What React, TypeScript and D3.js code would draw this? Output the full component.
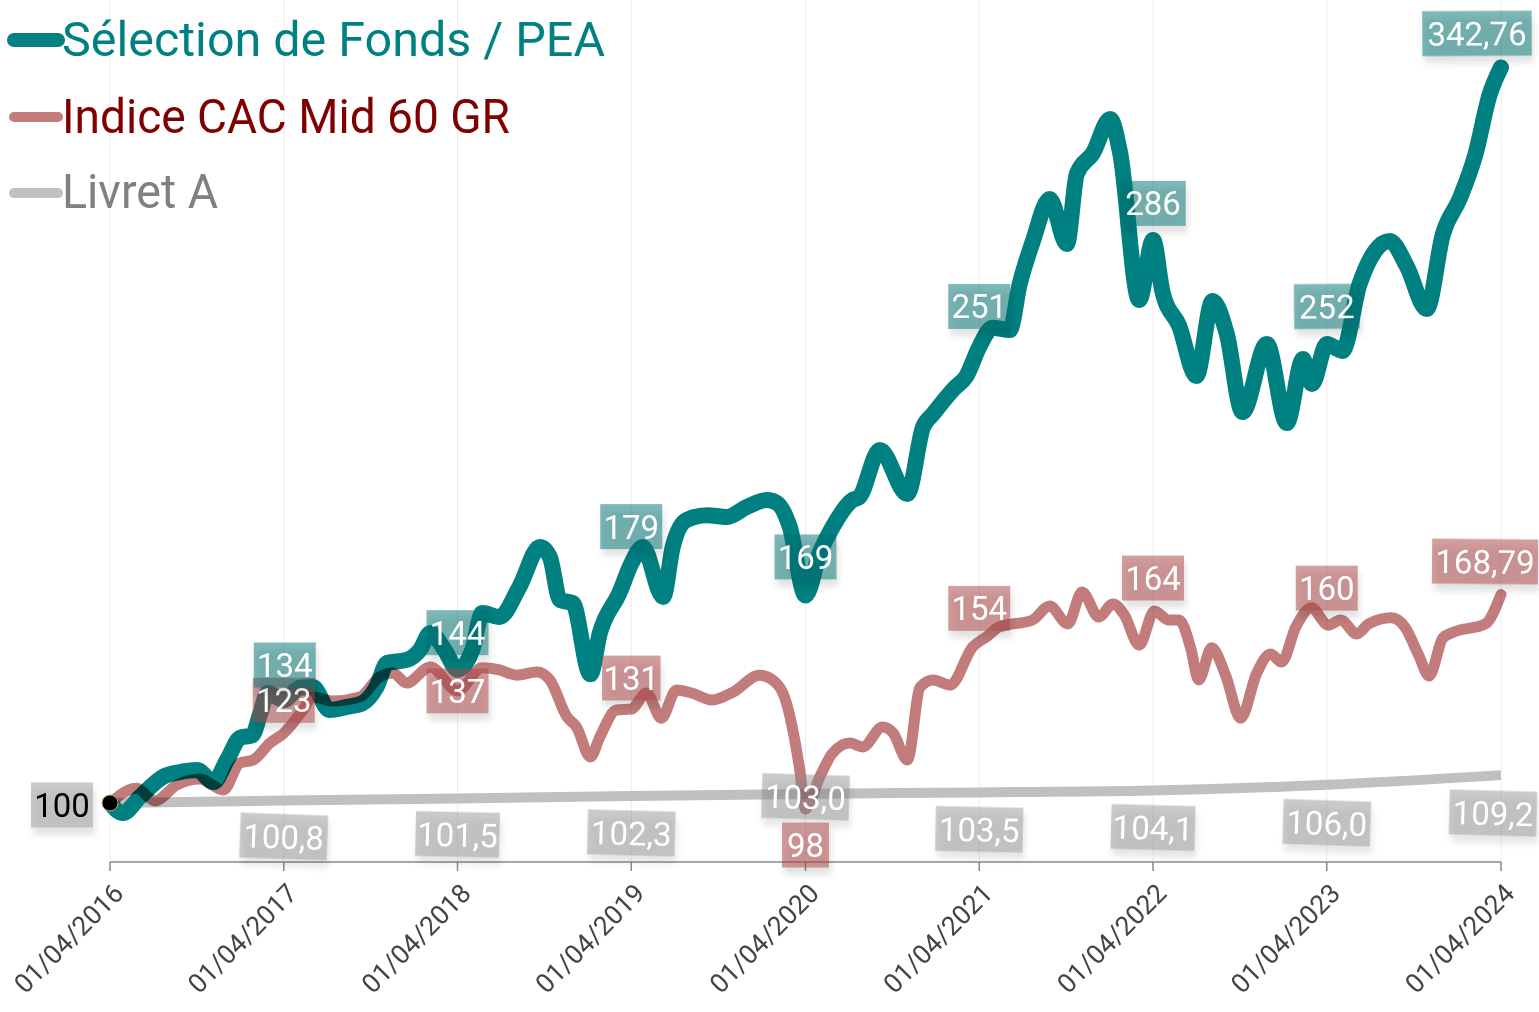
import React from "react";
import * as d3 from "d3";

// ---------- DATA ----------
const fundDates = [
  "2016-04-01","2016-04-28","2016-06-03","2016-07-21","2016-08-26","2016-10-01","2016-11-04","2016-12-03","2016-12-30",
  "2017-01-25","2017-02-11","2017-02-26","2017-04-01","2017-05-04","2017-06-01","2017-07-06","2017-08-11","2017-09-14",
  "2017-10-13","2017-11-04","2017-12-15","2018-01-12","2018-02-03","2018-03-05","2018-04-01","2018-05-02","2018-05-23",
  "2018-06-28","2018-08-09","2018-09-21","2018-10-12","2018-11-02","2018-11-29","2019-01-05","2019-01-25","2019-03-07",
  "2019-04-01","2019-04-25","2019-06-07","2019-06-27","2019-07-26","2019-09-07","2019-10-19","2019-11-30","2020-01-11",
  "2020-02-01","2020-02-28","2020-04-01","2020-05-01","2020-05-28","2020-07-09","2020-07-23","2020-09-04","2020-11-01",
  "2020-12-04","2020-12-25","2021-02-06","2021-03-05","2021-04-01","2021-04-29","2021-06-04","2021-06-25","2021-07-22",
  "2021-08-27","2021-10-02","2021-10-23","2021-11-26","2022-01-01","2022-01-22","2022-03-03","2022-04-01","2022-04-21",
  "2022-05-26","2022-07-01","2022-08-04","2022-09-03","2022-10-06","2022-11-26","2023-01-07","2023-02-10","2023-03-01",
  "2023-04-01","2023-05-04","2023-06-09","2023-08-11","2023-09-16","2023-10-28","2023-12-01","2024-01-06","2024-02-07",
  "2024-03-08","2024-04-01"
];
const fundValues = [
  100, 96.7, 102.0, 108.6, 110.2, 110.9, 106.9, 114.2, 121.5,
  122.4, 129.7, 136.3, 134, 138, 138.3, 130.7, 131.7, 133,
  138.3, 146.2, 147.2, 150.5, 156.1, 150.5, 144, 150.5, 162.7,
  161.4, 171.3, 184.5, 181.2, 167, 166, 142.5, 156.1, 169.3,
  179, 184.5, 168, 184.5, 193.4, 195, 194.4, 197.7, 200,
  199, 191.1, 168.5, 182.5, 191.1, 200, 201, 216.5, 202,
  224.1, 228.4, 236.6, 240.9, 250.5, 256.8, 256.1, 271.3, 285.1,
  299.3, 284.5, 307.6, 314.5, 325.7, 314.5, 266, 285.8, 268.6,
  257.4, 240.9, 265.7, 254.8, 229, 251.5, 225.4, 246.5, 238.3,
  251.5, 249.2, 271.3, 285.5, 277.2, 263, 287.8, 299.7, 313.9,
  333.7, 342.76
];

const cacDates = [
  "2016-04-01","2016-05-27","2016-07-04","2016-08-19","2016-10-07","2016-11-25","2016-12-30","2017-01-27","2017-03-03",
  "2017-04-01","2017-05-10","2017-06-01","2017-07-13","2017-09-08","2017-10-19","2017-11-16","2017-12-15","2018-02-03",
  "2018-04-01","2018-05-23","2018-06-28","2018-08-03","2018-09-15","2018-10-12","2018-11-17","2018-12-07","2019-01-05",
  "2019-01-25","2019-03-01","2019-04-01","2019-05-03","2019-06-03","2019-07-05","2019-08-06","2019-09-18","2019-11-01",
  "2019-12-26","2020-01-23","2020-02-21","2020-03-04","2020-03-19","2020-04-01","2020-05-01","2020-05-28","2020-07-03",
  "2020-07-30","2020-09-10","2020-10-02","2020-11-01","2020-11-28","2020-12-25","2021-01-30","2021-03-18","2021-04-16",
  "2021-05-13","2021-07-22","2021-08-27","2021-10-04","2021-11-03","2021-12-08","2022-01-07","2022-01-31","2022-03-03",
  "2022-04-04","2022-05-04","2022-05-26","2022-06-19","2022-07-06","2022-08-02","2022-09-01","2022-10-02","2022-11-05",
  "2022-12-04","2022-12-27","2023-01-26","2023-02-28","2023-04-04","2023-04-30","2023-06-03","2023-06-28","2023-08-15",
  "2023-09-12","2023-10-11","2023-11-02","2023-12-01","2023-12-24","2024-02-28","2024-04-01"
];
const cacValues = [
  100, 104.9, 100.7, 105.9, 107.9, 104.3, 113.2, 114.2, 119.8,
  123, 130.4, 135, 133.7, 135, 141.6, 142.9, 139.6, 144.9,
  137, 144.6, 143.9, 142.2, 143.2, 140.6, 128.4, 125.1, 115.2,
  121.8, 130.7, 131, 136.3, 128, 137.3, 136.3, 134, 136.6,
  142.2, 140.6, 133, 125.1, 111.9, 98, 108.6, 116.5, 119.8,
  118.5, 125.1, 123.1, 114.2, 138.3, 140.6, 138.9, 151.5, 154.8,
  158.1, 160.4, 165, 159.1, 169.6, 161.4, 165.7, 162, 152.1,
  163.4, 160.4, 160.4, 151.2, 140.6, 151.2, 141.9, 128, 142.9,
  149.2, 146.5, 158.1, 164.4, 158.7, 160.4, 155.8, 159.1, 161.1,
  158.1, 148.8, 141.9, 154.5, 156.4, 159.1, 168.79
];

const livretDates = ["2016-04-01","2017-04-01","2018-04-01","2019-04-01","2020-04-01","2021-04-01","2022-04-01","2023-04-01","2024-04-01"];
const livretValues = [100, 100.8, 101.5, 102.3, 103.0, 103.5, 104.1, 106.0, 109.2];

const tickDates = ["2016-04-01","2017-04-01","2018-04-01","2019-04-01","2020-04-01","2021-04-01","2022-04-01","2023-04-01","2024-04-01"];
const tickLabels = ["01/04/2016","01/04/2017","01/04/2018","01/04/2019","01/04/2020","01/04/2021","01/04/2022","01/04/2023","01/04/2024"];

const fundLabelDates = ["2017-04-01","2018-04-01","2019-04-01","2020-04-01","2021-04-01","2022-04-01","2023-04-01","2024-04-01"];
const fundLabelTexts = ["134","144","179","169","251","286","252","342,76"];
const cacLabelTexts = ["123","137","131","98","154","164","160","168,79"];
const livretLabelTexts = ["100,8","101,5","102,3","103,0","103,5","104,1","106,0","109,2"];

const seriesNames = ["Sélection de Fonds / PEA", "Indice CAC Mid 60 GR", "Livret A"];

// ---------- STYLE / PLACEMENT (not data) ----------
const fundLabelOffsets = [[1, -35], [0, -37], [0, -37], [0, -37], [0, -39], [0, -36], [0, -36], [-24, -34]];
const cacLabelOffsets = [[0, -33], [0, 0], [0, -31], [0, 36], [0, -31], [0, -31], [0, -33], [-16, -33]];
const livretLabelOffsets = [[0, 36], [0, 36], [0, 37], [0, 3], [0, 37], [0, 37], [0, 38], [-8, 38]];
const fundLabelRot = [0, 0, 0, 0, 0, 0, -0.5, -0.3];
const cacLabelRot = [0, 0, 0, 0, 0, 0, 0, 0.5];
const livretLabelRot = [2, 1.2, 1.5, 1.8, 1.2, 1.5, 1.8, 1.5];

const TEAL = "#008080";
const RED = "#c27c7c";
const GREY = "#c0c0c0";
const FONT = "Roboto, 'DejaVu Sans', sans-serif";

const parse = d3.timeParse("%Y-%m-%d");
const num = (s: string) => parseFloat(s.replace(",", "."));

function Label({ cx, cy, text, fill, color, rot }: { cx: number; cy: number; text: string; fill: string; color: string; rot: number }) {
  const fs = 33;
  let w = 10;
  for (const ch of text) w += ch === "," ? 7 : ch === "1" ? 15 : 18.5;
  const h = 45;
  return (
    <g transform={`translate(${cx},${cy}) rotate(${rot})`}>
      <rect x={-w / 2} y={-h / 2} width={w} height={h} fill={fill} filter="url(#shadow)" />
      <text x={0} y={12} textAnchor="middle" fontSize={fs} fill={color} fontFamily={FONT}>{text}</text>
    </g>
  );
}

export default function App() {
  const W = 1539, H = 1012;
  const x = d3.scaleTime().domain([parse("2016-04-01")!, parse("2024-04-01")!]).range([110, 1501]);
  const y = d3.scaleLinear().domain([100, 342.76]).range([803, 67.4]);

  const fund = fundDates.map((d, i) => ({ d: parse(d)!, v: fundValues[i] }));
  const cac = cacDates.map((d, i) => ({ d: parse(d)!, v: cacValues[i] }));
  const liv = livretDates.map((d, i) => ({ d: parse(d)!, v: livretValues[i] }));

  const line = d3.line<{ d: Date; v: number }>().x(p => x(p.d)).y(p => y(p.v)).curve(d3.curveMonotoneX);
  const axisY = 862;

  return (
    <svg width={W} height={H} style={{ position: "absolute", left: 0, top: 0, background: "#fff" }}>
      <defs>
        <filter id="shadow" x="-30%" y="-30%" width="160%" height="180%">
          <feDropShadow dx="2" dy="7" stdDeviation="3" floodColor="#000" floodOpacity="0.22" />
        </filter>
      </defs>
      <rect width={W} height={H} fill="#fff" />
      {/* grid */}
      {tickDates.map((t, i) => (
        <line key={"g" + i} x1={x(parse(t)!)} x2={x(parse(t)!)} y1={0} y2={axisY} stroke="#ececec" strokeWidth={1} />
      ))}
      {/* axis */}
      <line x1={110} x2={1501} y1={axisY} y2={axisY} stroke="#8a8a8a" strokeWidth={1.5} />
      {tickDates.map((t, i) => {
        const tx = x(parse(t)!);
        return (
          <g key={"t" + i}>
            <line x1={tx} x2={tx} y1={axisY} y2={axisY + 9} stroke="#8a8a8a" strokeWidth={1.5} />
            <text transform={`translate(${tx + 15},${axisY + 33}) rotate(-45)`} textAnchor="end" fontSize={26.5} fill="#444" fontFamily={FONT}>{tickLabels[i]}</text>
          </g>
        );
      })}
      {/* lines */}
      <path d={line(liv)!} fill="none" stroke={GREY} strokeWidth={10} strokeLinecap="butt" />
      <path d={line(fund)!} fill="none" stroke={TEAL} strokeWidth={16} strokeLinecap="round" strokeLinejoin="round" />
      <path d={line(cac)!} fill="none" stroke={RED} strokeWidth={11} strokeLinecap="round" strokeLinejoin="round" style={{ mixBlendMode: "multiply" }} />
      <circle cx={x(fund[0].d)} cy={y(100)} r={8} fill="#000" stroke="#b8b060" strokeWidth={1} />
      {/* labels */}
      <Label cx={62} cy={805} text="100" fill="rgba(150,150,150,0.5)" color="#000" rot={0} />
      {livretLabelTexts.map((t, i) => (
        <Label key={"l" + i} cx={x(parse(fundLabelDates[i])!) + livretLabelOffsets[i][0]} cy={y(num(t)) + livretLabelOffsets[i][1]} text={t} fill="rgba(140,140,140,0.45)" color="#fff" rot={livretLabelRot[i]} />
      ))}
      {cacLabelTexts.map((t, i) => (
        <Label key={"c" + i} cx={x(parse(fundLabelDates[i])!) + cacLabelOffsets[i][0]} cy={y(num(t)) + cacLabelOffsets[i][1]} text={t} fill="rgba(168,70,70,0.52)" color="#fff" rot={cacLabelRot[i]} />
      ))}
      {fundLabelTexts.map((t, i) => (
        <Label key={"f" + i} cx={x(parse(fundLabelDates[i])!) + fundLabelOffsets[i][0]} cy={y(num(t)) + fundLabelOffsets[i][1]} text={t} fill="rgba(0,112,112,0.5)" color="#fff" rot={fundLabelRot[i]} />
      ))}
      {/* legend */}
      <line x1={14} x2={58} y1={40} y2={40} stroke={TEAL} strokeWidth={14} strokeLinecap="round" />
      <text x={62} y={56} fontSize={48} fill={TEAL} fontFamily={FONT} textLength={543} lengthAdjust="spacingAndGlyphs">{seriesNames[0]}</text>
      <line x1={14} x2={58} y1={117} y2={117} stroke={RED} strokeWidth={10} strokeLinecap="round" />
      <text x={62} y={133} fontSize={48} fill="#800000" fontFamily={FONT} textLength={448} lengthAdjust="spacingAndGlyphs">{seriesNames[1]}</text>
      <line x1={14} x2={58} y1={193} y2={193} stroke={GREY} strokeWidth={10} strokeLinecap="round" />
      <text x={62} y={208} fontSize={48} fill="#808080" fontFamily={FONT} textLength={156} lengthAdjust="spacingAndGlyphs">{seriesNames[2]}</text>
    </svg>
  );
}
